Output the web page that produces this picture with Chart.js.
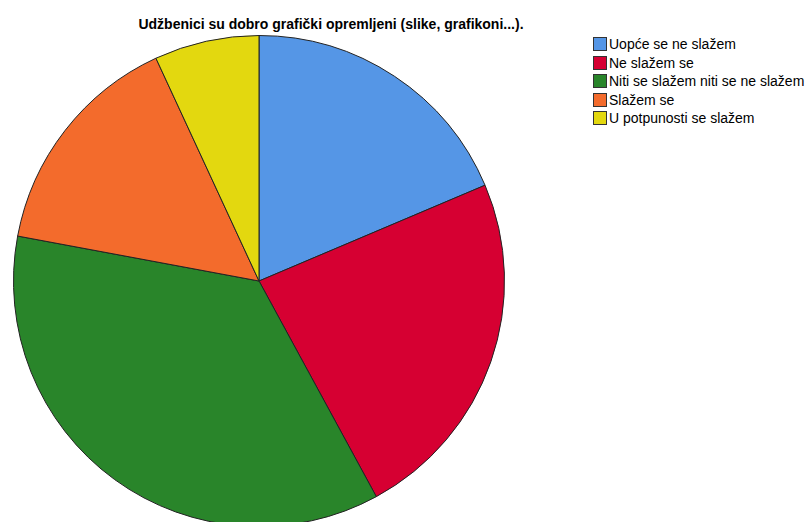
<!DOCTYPE html>
<html>
<head>
<meta charset="utf-8">
<script src="https://cdn.jsdelivr.net/npm/chart.js@4"></script>
<style>
  html, body { margin: 0; padding: 0; background: #fff; overflow: hidden; }
  body { width: 808px; height: 522px; position: relative; font-family: "Liberation Sans", Arial, sans-serif; }
  #title { position: absolute; left: 0; top: 15px; width: 662px; text-align: center; font-size: 14px; line-height: 18px; font-weight: bold; color: #000; }
  #wrap { position: absolute; left: 0; top: 0; width: 560px; height: 560px; }
  #legend { position: absolute; left: 593px; top: 35px; font-size: 14px; color: #000; }
  .row { height: 18.5px; line-height: 18px; display: flex; align-items: center; white-space: nowrap; }
  .box { width: 14px; height: 14px; box-sizing: border-box; border: 1px solid #333; margin-right: 2px; }
</style>
</head>
<body>
<div id="title">Udžbenici su dobro grafički opremljeni (slike, grafikoni...).</div>
<div id="wrap"><canvas id="pie"></canvas></div>
<div id="legend"></div>
<script>
// answer categories and counts
var labels = ["Uopće se ne slažem", "Ne slažem se", "Niti se slažem niti se ne slažem", "Slažem se", "U potpunosti se slažem"];
var counts = [27, 34, 52, 22, 10];
var colors = ["#5596e6", "#d60032", "#29852a", "#f36b2c", "#e3d80f"];

// legend as html, built from the same arrays
var legend = document.getElementById("legend");
labels.forEach(function(l, i) {
	var row = document.createElement("div");
	row.className = "row";
	var box = document.createElement("span");
	box.className = "box";
	box.style.background = colors[i];
	var txt = document.createElement("span");
	txt.textContent = l;
	row.appendChild(box);
	row.appendChild(txt);
	legend.appendChild(row);
});

var ctx = document.getElementById("pie");
var myPie = new Chart(ctx, {
	type: 'pie',
	data: {
		labels: labels,
		datasets: [{
			data: counts,
			backgroundColor: colors,
			borderColor: "#222",
			borderWidth: 1
		}]
	},
	options: {
		responsive: true,
		maintainAspectRatio: false,
		animation: false,
		layout: { padding: { left: 13, top: 35, right: 55, bottom: 33 } },
		plugins: {
			legend: { display: false },
			tooltip: { enabled: false }
		}
	}
});
</script>
</body>
</html>
